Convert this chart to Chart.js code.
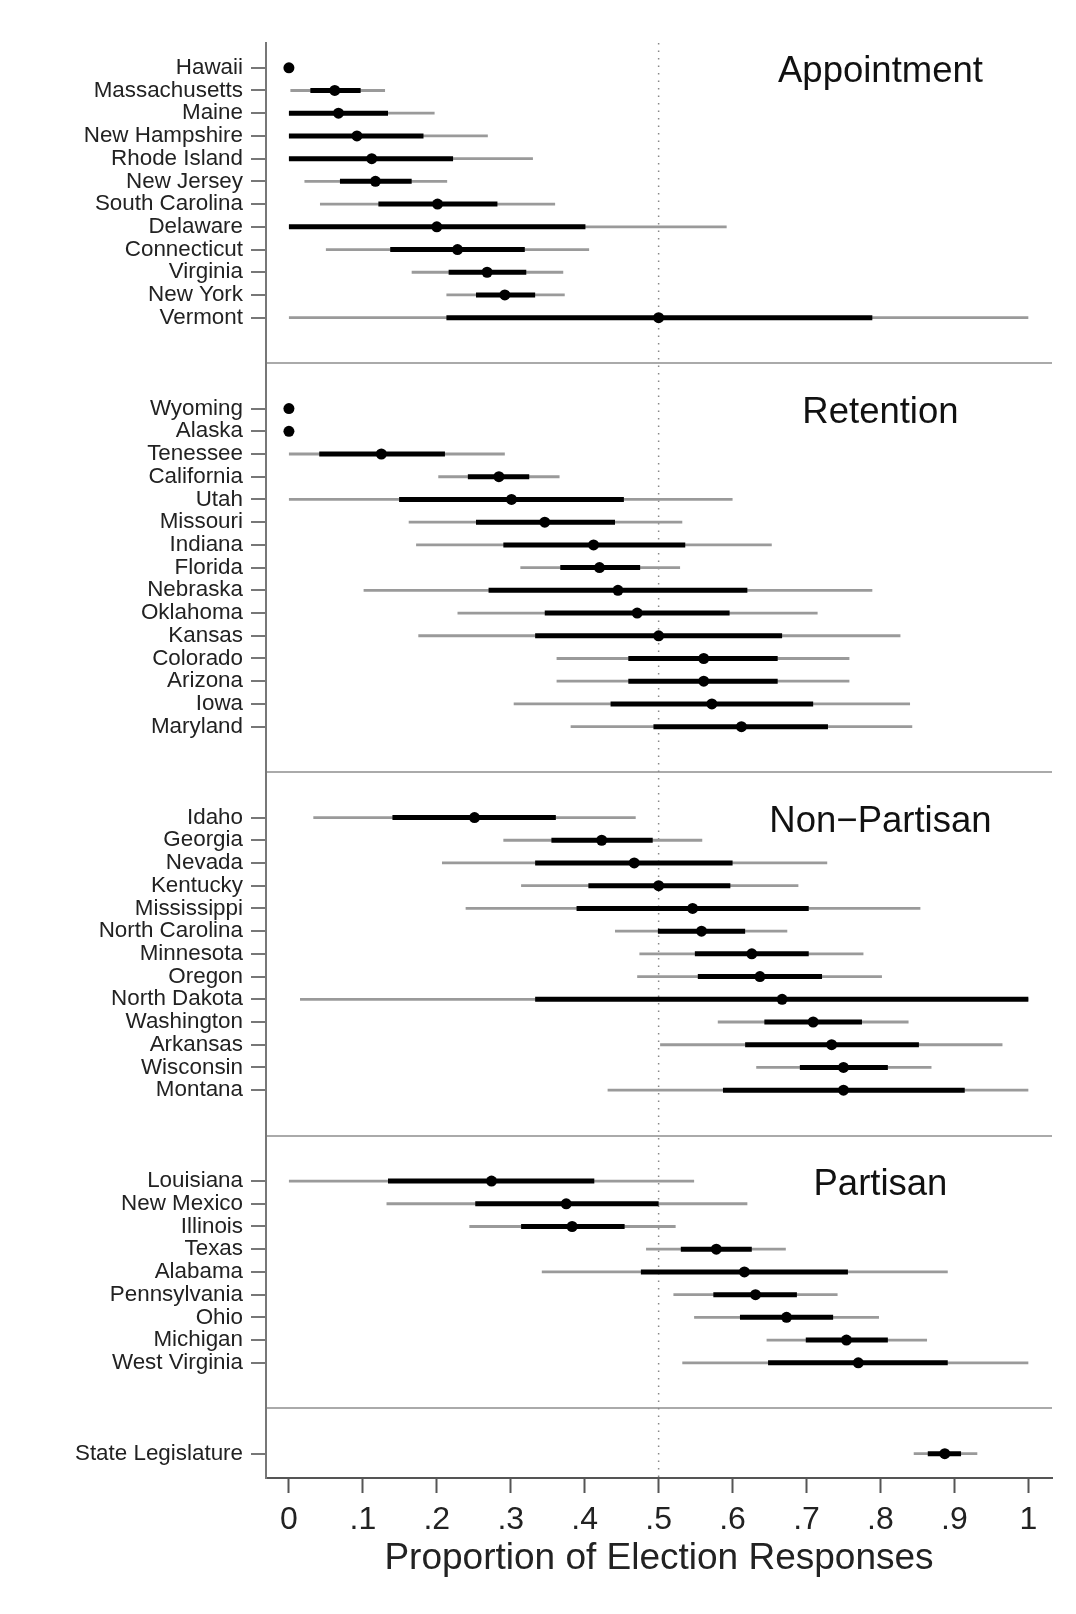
<!DOCTYPE html>
<html lang="en">
<head>
    <meta charset="UTF-8">
    <title>Proportion of Election Responses</title>
    <script src="https://cdn.jsdelivr.net/npm/chart.js@4/dist/chart.umd.min.js"></script>
    <style>
        body { margin: 0; background: #fff; }
        canvas { display: block; }
    </style>
</head>
<body>
    <canvas id="myChart" width="1076" height="1614"></canvas>

    <script>
        // Panel names, and the panel each state belongs to (4 = state legislature)
        const panelTitles = ['Appointment', 'Retention', 'Non\u2212Partisan', 'Partisan'];

        const states = [
            'Hawaii', 'Massachusetts', 'Maine', 'New Hampshire', 'Rhode Island', 'New Jersey',
            'South Carolina', 'Delaware', 'Connecticut', 'Virginia', 'New York', 'Vermont',
            'Wyoming', 'Alaska', 'Tenessee', 'California', 'Utah', 'Missouri', 'Indiana', 'Florida',
            'Nebraska', 'Oklahoma', 'Kansas', 'Colorado', 'Arizona', 'Iowa', 'Maryland',
            'Idaho', 'Georgia', 'Nevada', 'Kentucky', 'Mississippi', 'North Carolina', 'Minnesota',
            'Oregon', 'North Dakota', 'Washington', 'Arkansas', 'Wisconsin', 'Montana',
            'Louisiana', 'New Mexico', 'Illinois', 'Texas', 'Alabama', 'Pennsylvania', 'Ohio',
            'Michigan', 'West Virginia',
            'State Legislature'
        ];
        const stateGroup = [
            0,0,0,0,0,0,0,0,0,0,0,0,
            1,1,1,1,1,1,1,1,1,1,1,1,1,1,1,
            2,2,2,2,2,2,2,2,2,2,2,2,2,
            3,3,3,3,3,3,3,3,3,
            4
        ];

        // point estimate
        const estimate = [
            0, .062, .067, .092, .112, .117, .201, .200, .228, .268, .292, .500,
            0, 0, .125, .284, .301, .346, .412, .420, .445, .471, .500, .561, .561, .572, .612,
            .251, .423, .467, .500, .546, .558, .626, .637, .667, .709, .734, .750, .750,
            .274, .375, .383, .578, .616, .631, .673, .754, .770,
            .887
        ];
        // inner interval (thick black)
        const innerLo = [
            0, .029, 0, 0, 0, .069, .121, 0, .137, .216, .253, .213,
            0, 0, .041, .242, .149, .253, .290, .367, .270, .346, .333, .459, .459, .435, .493,
            .140, .355, .333, .405, .389, .499, .549, .553, .333, .643, .617, .691, .587,
            .134, .252, .314, .530, .476, .574, .610, .699, .648,
            .864
        ];
        const innerHi = [
            0, .097, .134, .182, .222, .166, .282, .401, .319, .321, .333, .789,
            0, 0, .211, .325, .453, .441, .536, .475, .620, .596, .667, .661, .661, .709, .729,
            .361, .492, .600, .597, .703, .617, .703, .721, 1.0, .775, .852, .810, .914,
            .413, .500, .454, .626, .756, .687, .736, .810, .891,
            .909
        ];
        // outer interval (thin gray)
        const outerLo = [
            0, .002, 0, 0, 0, .021, .042, 0, .050, .166, .213, 0,
            0, 0, 0, .202, 0, .162, .172, .313, .101, .228, .175, .362, .362, .304, .381,
            .033, .290, .207, .314, .239, .441, .474, .471, .015, .580, .502, .632, .431,
            0, .132, .244, .483, .342, .520, .548, .646, .532,
            .845
        ];
        const outerHi = [
            0, .130, .197, .269, .330, .214, .360, .592, .406, .371, .373, 1.0,
            0, 0, .292, .366, .600, .532, .653, .529, .789, .715, .827, .758, .758, .840, .843,
            .469, .559, .728, .689, .854, .674, .777, .802, 1.0, .838, .965, .869, 1.0,
            .548, .620, .523, .672, .891, .742, .798, .863, 1.0,
            .931
        ];

        const xTicks = [0, .1, .2, .3, .4, .5, .6, .7, .8, .9, 1];
        const xTickLabels = ['0', '.1', '.2', '.3', '.4', '.5', '.6', '.7', '.8', '.9', '1'];
        const refValue = 0.5;

        const FONT = "'Liberation Sans', Arial, Helvetica, sans-serif";

        // rows: one step per state, a gap of 4 between panels with a separator in the middle
        const rows = [];
        const separators = [];
        let r = 1;
        states.forEach((s, i) => {
            if (i > 0) {
                if (stateGroup[i] !== stateGroup[i - 1]) {
                    separators.push(r + 2);
                    r += 4;
                } else {
                    r += 1;
                }
            }
            rows.push(r);
        });
        const yMin = 1 - 1.09;
        const yMax = r + 1.07;
        const nameByRow = {};
        rows.forEach((v, i) => nameByRow[v] = states[i]);
        const sepSet = new Set(separators);

        function segments(lo, hi) {
            const pts = [];
            states.forEach((s, i) => {
                if (hi[i] > lo[i]) {
                    pts.push({x: lo[i], y: rows[i]}, {x: hi[i], y: rows[i]}, {x: null, y: null});
                }
            });
            return pts;
        }

        const panelTitlePlugin = {
            id: 'panelTitles',
            afterDatasetsDraw(chart) {
                const {ctx, scales: {x, y}} = chart;
                ctx.save();
                ctx.font = '36.5px ' + FONT;
                ctx.fillStyle = '#111';
                ctx.textAlign = 'center';
                ctx.textBaseline = 'middle';
                panelTitles.forEach((t, g) => {
                    const first = stateGroup.indexOf(g);
                    ctx.fillText(t, x.getPixelForValue(0.8), y.getPixelForValue(rows[first]) + 4);
                });
                ctx.restore();
            }
        };

        const ctx = document.getElementById('myChart').getContext('2d');
        new Chart(ctx, {
            type: 'line',
            data: {
                datasets: [
                    {
                        label: 'estimate',
                        data: states.map((s, i) => ({x: estimate[i], y: rows[i]})),
                        showLine: false,
                        pointRadius: 5.5,
                        pointBackgroundColor: '#000',
                        pointBorderWidth: 0
                    },
                    {
                        label: 'inner',
                        data: segments(innerLo, innerHi),
                        borderColor: '#000',
                        borderWidth: 5,
                        pointRadius: 0,
                        spanGaps: false
                    },
                    {
                        label: 'outer',
                        data: segments(outerLo, outerHi),
                        borderColor: '#9a9a9a',
                        borderWidth: 2.8,
                        pointRadius: 0,
                        spanGaps: false
                    },
                    {
                        label: 'reference',
                        data: [{x: refValue, y: yMin}, {x: refValue, y: yMax}],
                        borderColor: '#888',
                        borderWidth: 1.5,
                        borderDash: [1.5, 6],
                        pointRadius: 0
                    }
                ]
            },
            options: {
                responsive: false,
                devicePixelRatio: 1,
                animation: false,
                layout: {padding: {top: 43, right: 24, bottom: 0, left: 0}},
                plugins: {
                    legend: {display: false},
                    tooltip: {enabled: false}
                },
                scales: {
                    x: {
                        type: 'linear',
                        min: -0.031,
                        max: 1.032,
                        afterBuildTicks: s => { s.ticks = xTicks.map(v => ({value: v})); },
                        afterFit: s => { s.height = 136; },
                        grid: {
                            drawOnChartArea: false,
                            tickLength: 15,
                            tickColor: '#555',
                            tickWidth: 2
                        },
                        border: {color: '#555', width: 2},
                        ticks: {
                            autoSkip: false,
                            maxRotation: 0,
                            padding: 8,
                            color: '#222',
                            font: {family: FONT, size: 32},
                            callback: (v, i) => xTickLabels[i]
                        },
                        title: {
                            display: true,
                            text: 'Proportion of Election Responses',
                            color: '#222',
                            font: {family: FONT, size: 37},
                            padding: {top: 0, bottom: 33}
                        }
                    },
                    y: {
                        type: 'linear',
                        reverse: true,
                        min: yMin,
                        max: yMax,
                        afterBuildTicks: s => {
                            s.ticks = rows.concat(separators).sort((a, b) => a - b).map(v => ({value: v}));
                        },
                        afterFit: s => { s.width = 266; },
                        grid: {
                            color: c => (c.tick && sepSet.has(c.tick.value)) ? '#aaa' : 'rgba(0,0,0,0)',
                            lineWidth: 2,
                            tickColor: c => (c.tick && sepSet.has(c.tick.value)) ? 'rgba(0,0,0,0)' : '#777',
                            tickWidth: 2,
                            tickLength: 15
                        },
                        border: {color: '#777', width: 2},
                        ticks: {
                            autoSkip: false,
                            padding: 8,
                            color: '#222',
                            font: {family: FONT, size: 22.4},
                            callback: v => nameByRow[v] || ''
                        }
                    }
                }
            },
            plugins: [panelTitlePlugin]
        });
    </script>
</body>
</html>
